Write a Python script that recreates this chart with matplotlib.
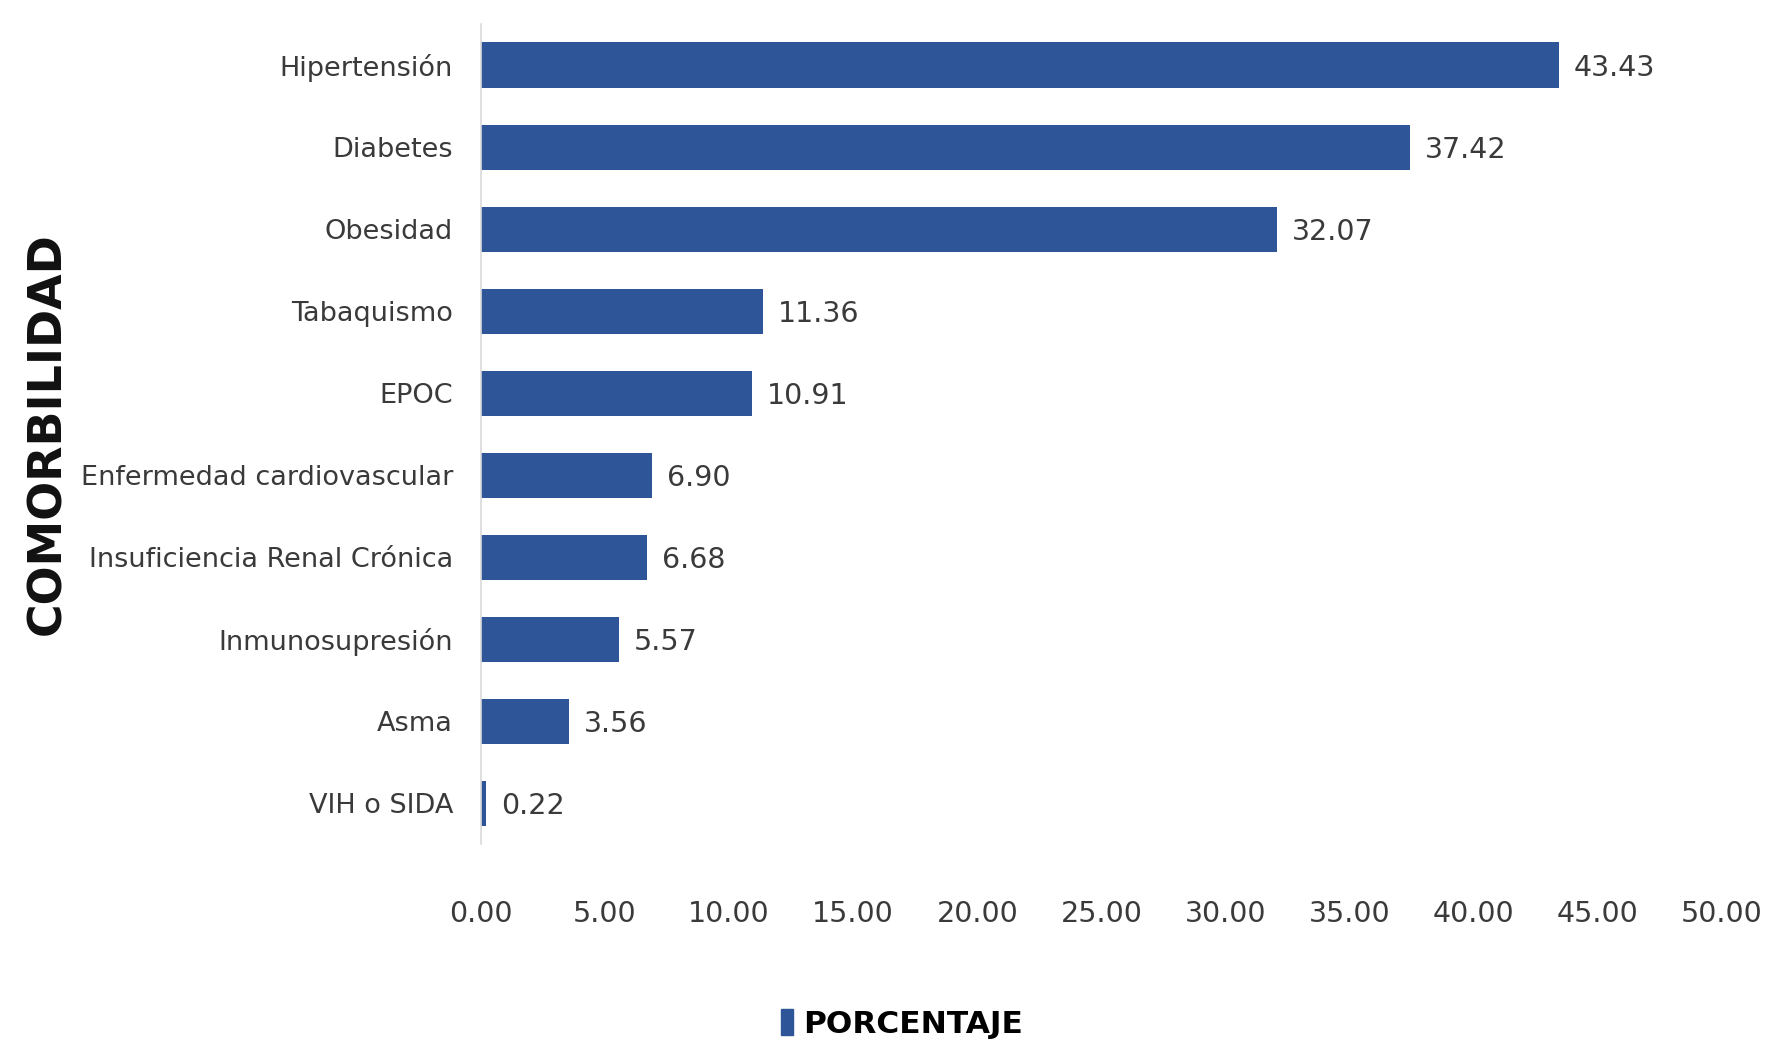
import matplotlib
matplotlib.use('Agg')
import matplotlib.pyplot as plt
from matplotlib.patches import Patch
from matplotlib import font_manager

# comorbidity data
categorias = ['Hipertensión', 'Diabetes', 'Obesidad', 'Tabaquismo', 'EPOC',
              'Enfermedad cardiovascular', 'Insuficiencia Renal Crónica',
              'Inmunosupresión', 'Asma', 'VIH o SIDA']
porcentajes = [43.43, 37.42, 32.07, 11.36, 10.91, 6.90, 6.68, 5.57, 3.56, 0.22]
ticks_x = [0, 5, 10, 15, 20, 25, 30, 35, 40, 45, 50]

# look for a condensed face, otherwise fall back to a smaller regular one
cond = None
for f in font_manager.fontManager.ttflist:
    if ('Narrow' in f.name or 'Condensed' in f.name
            or str(f.stretch) in ('condensed', 'semi-condensed', 'extra-condensed')):
        if f.weight in ('normal', 400, 'regular', 'book'):
            cond = f.name
            break

if cond is not None:
    fam = [cond, 'DejaVu Sans']
    fs = 19.5
else:
    fam = ['Liberation Sans', 'DejaVu Sans']
    fs = 19

bar_color = '#2E5597'
text_color = '#3A3A3A'

fig = plt.figure(figsize=(17.68, 10.45), dpi=100)
ax = fig.add_axes([0.272, 0.192, 0.702, 0.785])

y = list(range(len(categorias)))
ax.barh(y, porcentajes, height=0.55, color=bar_color)
ax.set_ylim(len(categorias) - 0.5, -0.5)
ax.set_xlim(0, 50)
ax.set_xticks(ticks_x)
ax.set_xticklabels(['%.2f' % t for t in ticks_x], family=fam,
                   fontsize=fs + 1, color=text_color)
ax.set_yticks(y)
ax.set_yticklabels(categorias, family=fam, fontsize=fs, color=text_color)
ax.tick_params(axis='both', length=0)
ax.tick_params(axis='x', pad=40)
ax.tick_params(axis='y', pad=20)

for side in ['top', 'right', 'bottom']:
    ax.spines[side].set_visible(False)
ax.spines['left'].set_color('#D9D9D9')
ax.spines['left'].set_linewidth(1.2)

# value labels
for yi, v in zip(y, porcentajes):
    ax.text(v + 0.6, yi, '%.2f' % v, va='center_baseline', ha='left',
            family=fam, fontsize=fs + 1, color=text_color)

fig.text(0.027, 0.585, 'COMORBILIDAD', rotation=90, ha='center', va='center',
         fontsize=33, fontweight='bold', color='#111111')

handle = Patch(color=bar_color, label='PORCENTAJE')
fig.legend(handles=[handle], loc='center', bbox_to_anchor=(0.51, 0.02),
           frameon=False, handlelength=0.4, handleheight=0.9,
           handletextpad=0.3, prop={'family': fam, 'size': fs + 3,
                                    'weight': 'bold'})

fig.savefig('out.png', dpi=100)
